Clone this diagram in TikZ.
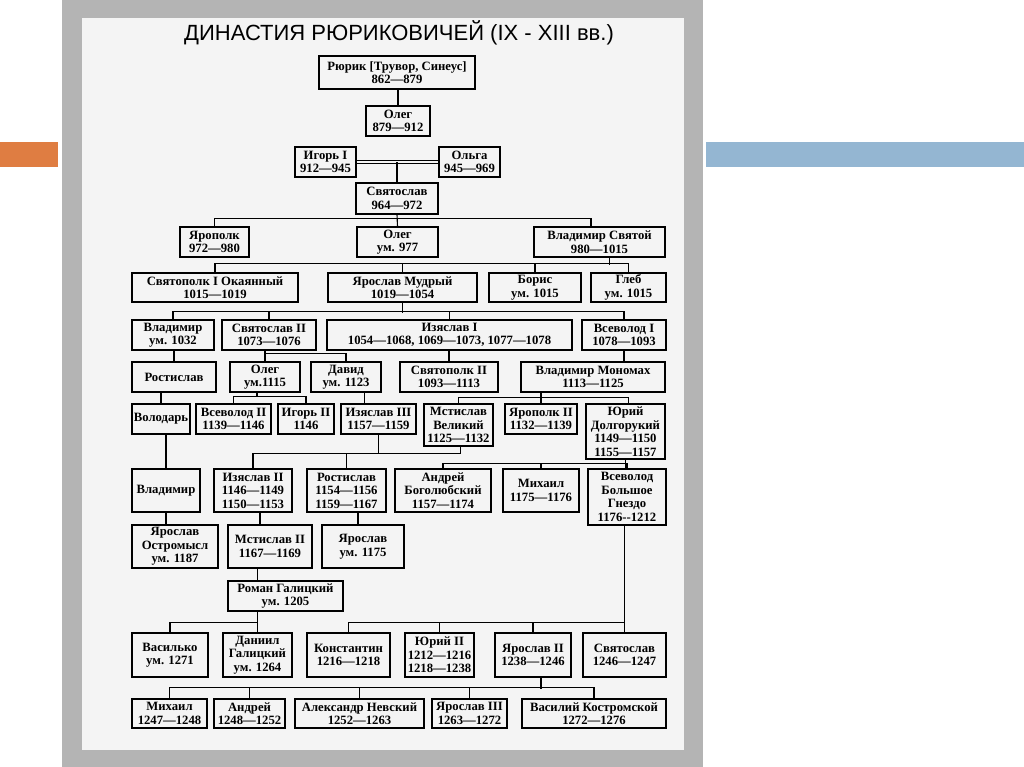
\documentclass[tikz,border=0pt]{standalone}
\usepackage{fontspec}
\usepackage{tikz}
\usepackage{xcolor}
\setmainfont{Liberation Serif}
\newfontfamily\titlefont{Liberation Sans}
\definecolor{framegrey}{HTML}{B4B4B4}
\definecolor{panelgrey}{HTML}{F4F4F4}
\definecolor{accentorange}{HTML}{DF7D42}
\definecolor{accentblue}{HTML}{94B6D2}

\begin{document}
\begin{tikzpicture}[
    x=1pt, y=-1pt,
    person/.style={draw, line width=1.1pt, align=center, inner sep=0pt, minimum height=30pt, font=\bfseries\fontsize{12.7}{13.5}\selectfont},
    link/.style={line width=1.1pt}
  ]
    \useasboundingbox (0,0) rectangle (1024,767);
    \fill[white] (0,0) rectangle (1024,767);
    \fill[accentorange] (0,142) rectangle (58,167);
    \fill[accentblue] (706,142) rectangle (1024,167);
    \fill[framegrey] (62,0) rectangle (703,767);
    \fill[panelgrey] (82,18) rectangle (684,750);

    \node[font=\titlefont\fontsize{22}{25}\selectfont, anchor=base] (title) at (399,41) {ДИНАСТИЯ РЮРИКОВИЧЕЙ (IX - XIII вв.)};

    \node[person, minimum width=156pt, minimum height=33pt] (rurik) at (397,72.5) {Рюрик [Трувор, Синеус]\\862—879};
    \node[person, minimum width=64pt] (oleg) at (398,121) {Олег\\879—912};
    \node[person, minimum width=61pt] (igor) at (325.5,162) {Игорь I\\912—945};
    \node[person, minimum width=61pt] (olga) at (469.5,162) {Ольга\\945—969};
    \node[person, minimum width=82pt, minimum height=31pt] (svyatoslav) at (397,198.5) {Святослав\\964—972};

    \node[person, minimum width=69pt] (yaropolk) at (214.5,242) {Ярополк\\972—980};
    \node[person, minimum width=81pt] (olegdrev) at (397.5,242) {Олег\\ум. 977};
    \node[person, minimum width=131pt] (vladsvyatoy) at (599.5,242) {Владимир Святой\\980—1015};

    \node[person, minimum width=166pt, minimum height=29pt] (okayanny) at (215,287.5) {Святополк I Окаянный\\1015—1019};
    \node[person, minimum width=149pt, minimum height=29pt] (mudry) at (402.5,287.5) {Ярослав Мудрый\\1019—1054};
    \node[person, minimum width=92pt, minimum height=29pt] (boris) at (535,287.5) {Борис\\ум. 1015};
    \node[person, minimum width=75pt, minimum height=29pt] (gleb) at (628.5,287.5) {Глеб\\ум. 1015};

    \node[person, minimum width=82pt] (vladimirya) at (173,335) {Владимир\\ум. 1032};
    \node[person, minimum width=94pt] (svyatoslavii) at (269,335) {Святослав II\\1073—1076};
    \node[person, minimum width=245pt] (izyaslavi) at (449.5,335) {Изяслав I\\1054—1068, 1069—1073, 1077—1078};
    \node[person, minimum width=84pt] (vsevolodi) at (624,335) {Всеволод I\\1078—1093};

    \node[person, minimum width=84pt] (rostislavv) at (174,377) {Ростислав};
    \node[person, minimum width=70pt] (olegs) at (265,377) {Олег\\ум.1115};
    \node[person, minimum width=70pt] (david) at (346,377) {Давид\\ум. 1123};
    \node[person, minimum width=98pt] (svyatopolkii) at (449,377) {Святополк II\\1093—1113};
    \node[person, minimum width=144pt] (monomakh) at (593,377) {Владимир Мономах\\1113—1125};

    \node[person, minimum width=58pt] (volodar) at (161,419) {Володарь};
    \node[person, minimum width=75pt] (vsevolodii) at (233.5,419) {Всеволод II\\1139—1146};
    \node[person, minimum width=56pt] (igorii) at (306,419) {Игорь II\\1146};
    \node[person, minimum width=75pt] (izyaslaviii) at (378.5,419) {Изяслав III\\1157—1159};
    \node[person, minimum width=69pt, minimum height=42pt] (mstislavv) at (458.5,425) {Мстислав\\Великий\\1125—1132};
    \node[person, minimum width=72pt] (yaropolkii) at (541,419) {Ярополк II\\1132—1139};
    \node[person, minimum width=79pt, minimum height=55pt] (dolgoruky) at (625.5,431.5) {Юрий\\Долгорукий\\1149—1150\\1155—1157};

    \node[person, minimum width=68pt, minimum height=43pt] (vladimirv) at (166,490.5) {Владимир};
    \node[person, minimum width=78pt, minimum height=43pt] (izyaslavii) at (253,490.5) {Изяслав II\\1146—1149\\1150—1153};
    \node[person, minimum width=79pt, minimum height=43pt] (rostislavm) at (346.5,490.5) {Ростислав\\1154—1156\\1159—1167};
    \node[person, minimum width=96pt, minimum height=43pt] (bogolyubsky) at (443,490.5) {Андрей\\Боголюбский\\1157—1174};
    \node[person, minimum width=76pt, minimum height=43pt] (mikhailyu) at (541,490.5) {Михаил\\1175—1176};
    \node[person, minimum width=78pt, minimum height=56pt] (gnezdo) at (627,497) {Всеволод\\Большое\\Гнездо\\1176-{}-1212};

    \node[person, minimum width=86pt, minimum height=43pt] (ostromysl) at (175,546.5) {Ярослав\\Остромысл\\ум. 1187};
    \node[person, minimum width=84pt, minimum height=43pt] (mstislavii) at (270,546.5) {Мстислав II\\1167—1169};
    \node[person, minimum width=82pt, minimum height=43pt] (yaroslavr) at (363,546.5) {Ярослав\\ум. 1175};
    \node[person, minimum width=115pt] (roman) at (285.5,596) {Роман Галицкий\\ум. 1205};

    \node[person, minimum width=76pt, minimum height=44pt] (vasilko) at (170,655) {Василько\\ум. 1271};
    \node[person, minimum width=69pt, minimum height=44pt] (daniil) at (257.5,655) {Даниил\\Галицкий\\ум. 1264};
    \node[person, minimum width=83pt, minimum height=44pt] (konstantin) at (348.5,655) {Константин\\1216—1218};
    \node[person, minimum width=69pt, minimum height=44pt] (yuriii) at (439.5,655) {Юрий II\\1212—1216\\1218—1238};
    \node[person, minimum width=76pt, minimum height=44pt] (yaroslavii) at (533,655) {Ярослав II\\1238—1246};
    \node[person, minimum width=83pt, minimum height=44pt] (svyatoslavvs) at (624.5,655) {Святослав\\1246—1247};

    \node[person, minimum width=75pt, minimum height=29pt] (mikhailya) at (169.5,713.5) {Михаил\\1247—1248};
    \node[person, minimum width=71pt, minimum height=29pt] (andreiya) at (249.5,713.5) {Андрей\\1248—1252};
    \node[person, minimum width=129pt, minimum height=29pt] (nevsky) at (359.5,713.5) {Александр Невский\\1252—1263};
    \node[person, minimum width=75pt, minimum height=29pt] (yaroslaviii) at (469.5,713.5) {Ярослав III\\1263—1272};
    \node[person, minimum width=144pt, minimum height=29pt] (kostromskoy) at (594,713.5) {Василий Костромской\\1272—1276};

    \draw[link] (oleg.north) -- (oleg.north |- rurik.south);
    \draw[line width=0.9pt, double=panelgrey, double distance=2pt] (igor) -- (olga);
    \draw[link] (svyatoslav.north) -- (svyatoslav.north |- igor.east);

    \draw[link] (yaropolk.north) -- ++(0,-8) -| ([xshift=-8.5pt]vladsvyatoy.north);
    \draw[link] (svyatoslav.south) -- (olegdrev.north);

    \draw[link] (okayanny.north) -- ++(0,-9) -| (gleb.north);
    \draw[link] (mudry.north) -- ++(0,-9);
    \draw[link] (boris.north) -- ++(0,-9);
    \draw[link] ([xshift=10pt]vladsvyatoy.south) -- ++(0,7);

    \draw[link] (vladimirya.north) -- ++(0,-8) -| (vsevolodi.north);
    \draw[link] (svyatoslavii.north) -- ++(0,-8);
    \draw[link] (izyaslavi.north) -- ++(0,-8);
    \draw[link] (mudry.south) -- ++(0,10);

    \draw[link] (rostislavv.north) -- (rostislavv.north |- vladimirya.south);
    \draw[link] (olegs.north) -- (olegs.north |- svyatoslavii.south);
    \draw[link] (olegs.north) ++(0,-8) -| (david.north);
    \draw[link] (svyatopolkii.north) -- (svyatopolkii.north |- izyaslavi.south);
    \draw[link] (vsevolodi.south) -- (vsevolodi.south |- monomakh.north);

    \draw[link] (volodar.north) -- (volodar.north |- rostislavv.south);
    \draw[link] (vsevolodii.north) -- ++(0,-7) coordinate (olegbus) -| (igorii.north);
    \draw[link] ([xshift=-8pt]olegs.south) -- ([xshift=-8pt]olegs.south |- olegbus);
    \draw[link] ([xshift=-14pt]izyaslaviii.north) -- ([xshift=-14pt]izyaslaviii.north |- david.south);
    \draw[link] (mstislavv.north) -- ++(0,-6) -| ([xshift=3pt]dolgoruky.north);
    \draw[link] (yaropolkii.north) -- (yaropolkii.north |- monomakh.south);

    \draw[link] (izyaslavii.north) -- ++(0,-15) coordinate (mstbus) -| ([xshift=2pt]mstislavv.south);
    \draw[link] (rostislavm.north) -- ++(0,-15);
    \draw[link] (izyaslaviii.south) -- (izyaslaviii.south |- mstbus);
    \draw[link] (bogolyubsky.north) -- ++(0,-5) -| (gnezdo.north);
    \draw[link] (mikhailyu.north) -- ++(0,-5);
    \draw[link] (dolgoruky.south) -- (dolgoruky.south |- gnezdo.north);

    \draw[link] (vladimirv.north) -- (vladimirv.north |- volodar.south);
    \draw[link] ([xshift=-9pt]ostromysl.north) -- ([xshift=-9pt]ostromysl.north |- vladimirv.south);
    \draw[link] ([xshift=-10pt]mstislavii.north) -- ([xshift=-10pt]mstislavii.north |- izyaslavii.south);
    \draw[link] ([xshift=-5pt]yaroslavr.north) -- ([xshift=-5pt]yaroslavr.north |- rostislavm.south);
    \draw[link] ([xshift=-28pt]roman.north) -- ([xshift=-28pt]roman.north |- mstislavii.south);

    \draw[link] (vasilko.north) -- ++(0,-10) -| (daniil.north);
    \draw[link] (daniil.north) -- (daniil.north |- roman.south);
    \draw[link] (konstantin.north) -- ++(0,-10) -| (svyatoslavvs.north);
    \draw[link] (yuriii.north) -- ++(0,-10);
    \draw[link] (yaroslavii.north) -- ++(0,-10);
    \draw[link] (svyatoslavvs.north) -- (svyatoslavvs.north |- gnezdo.south);

    \draw[link] (mikhailya.north) -- ++(0,-11) -| (kostromskoy.north);
    \draw[link] (andreiya.north) -- ++(0,-11);
    \draw[link] (nevsky.north) -- ++(0,-11);
    \draw[link] (yaroslaviii.north) -- ++(0,-11);
    \draw[link] ([xshift=8pt]yaroslavii.south) -- ++(0,11);
\end{tikzpicture}
\end{document}
